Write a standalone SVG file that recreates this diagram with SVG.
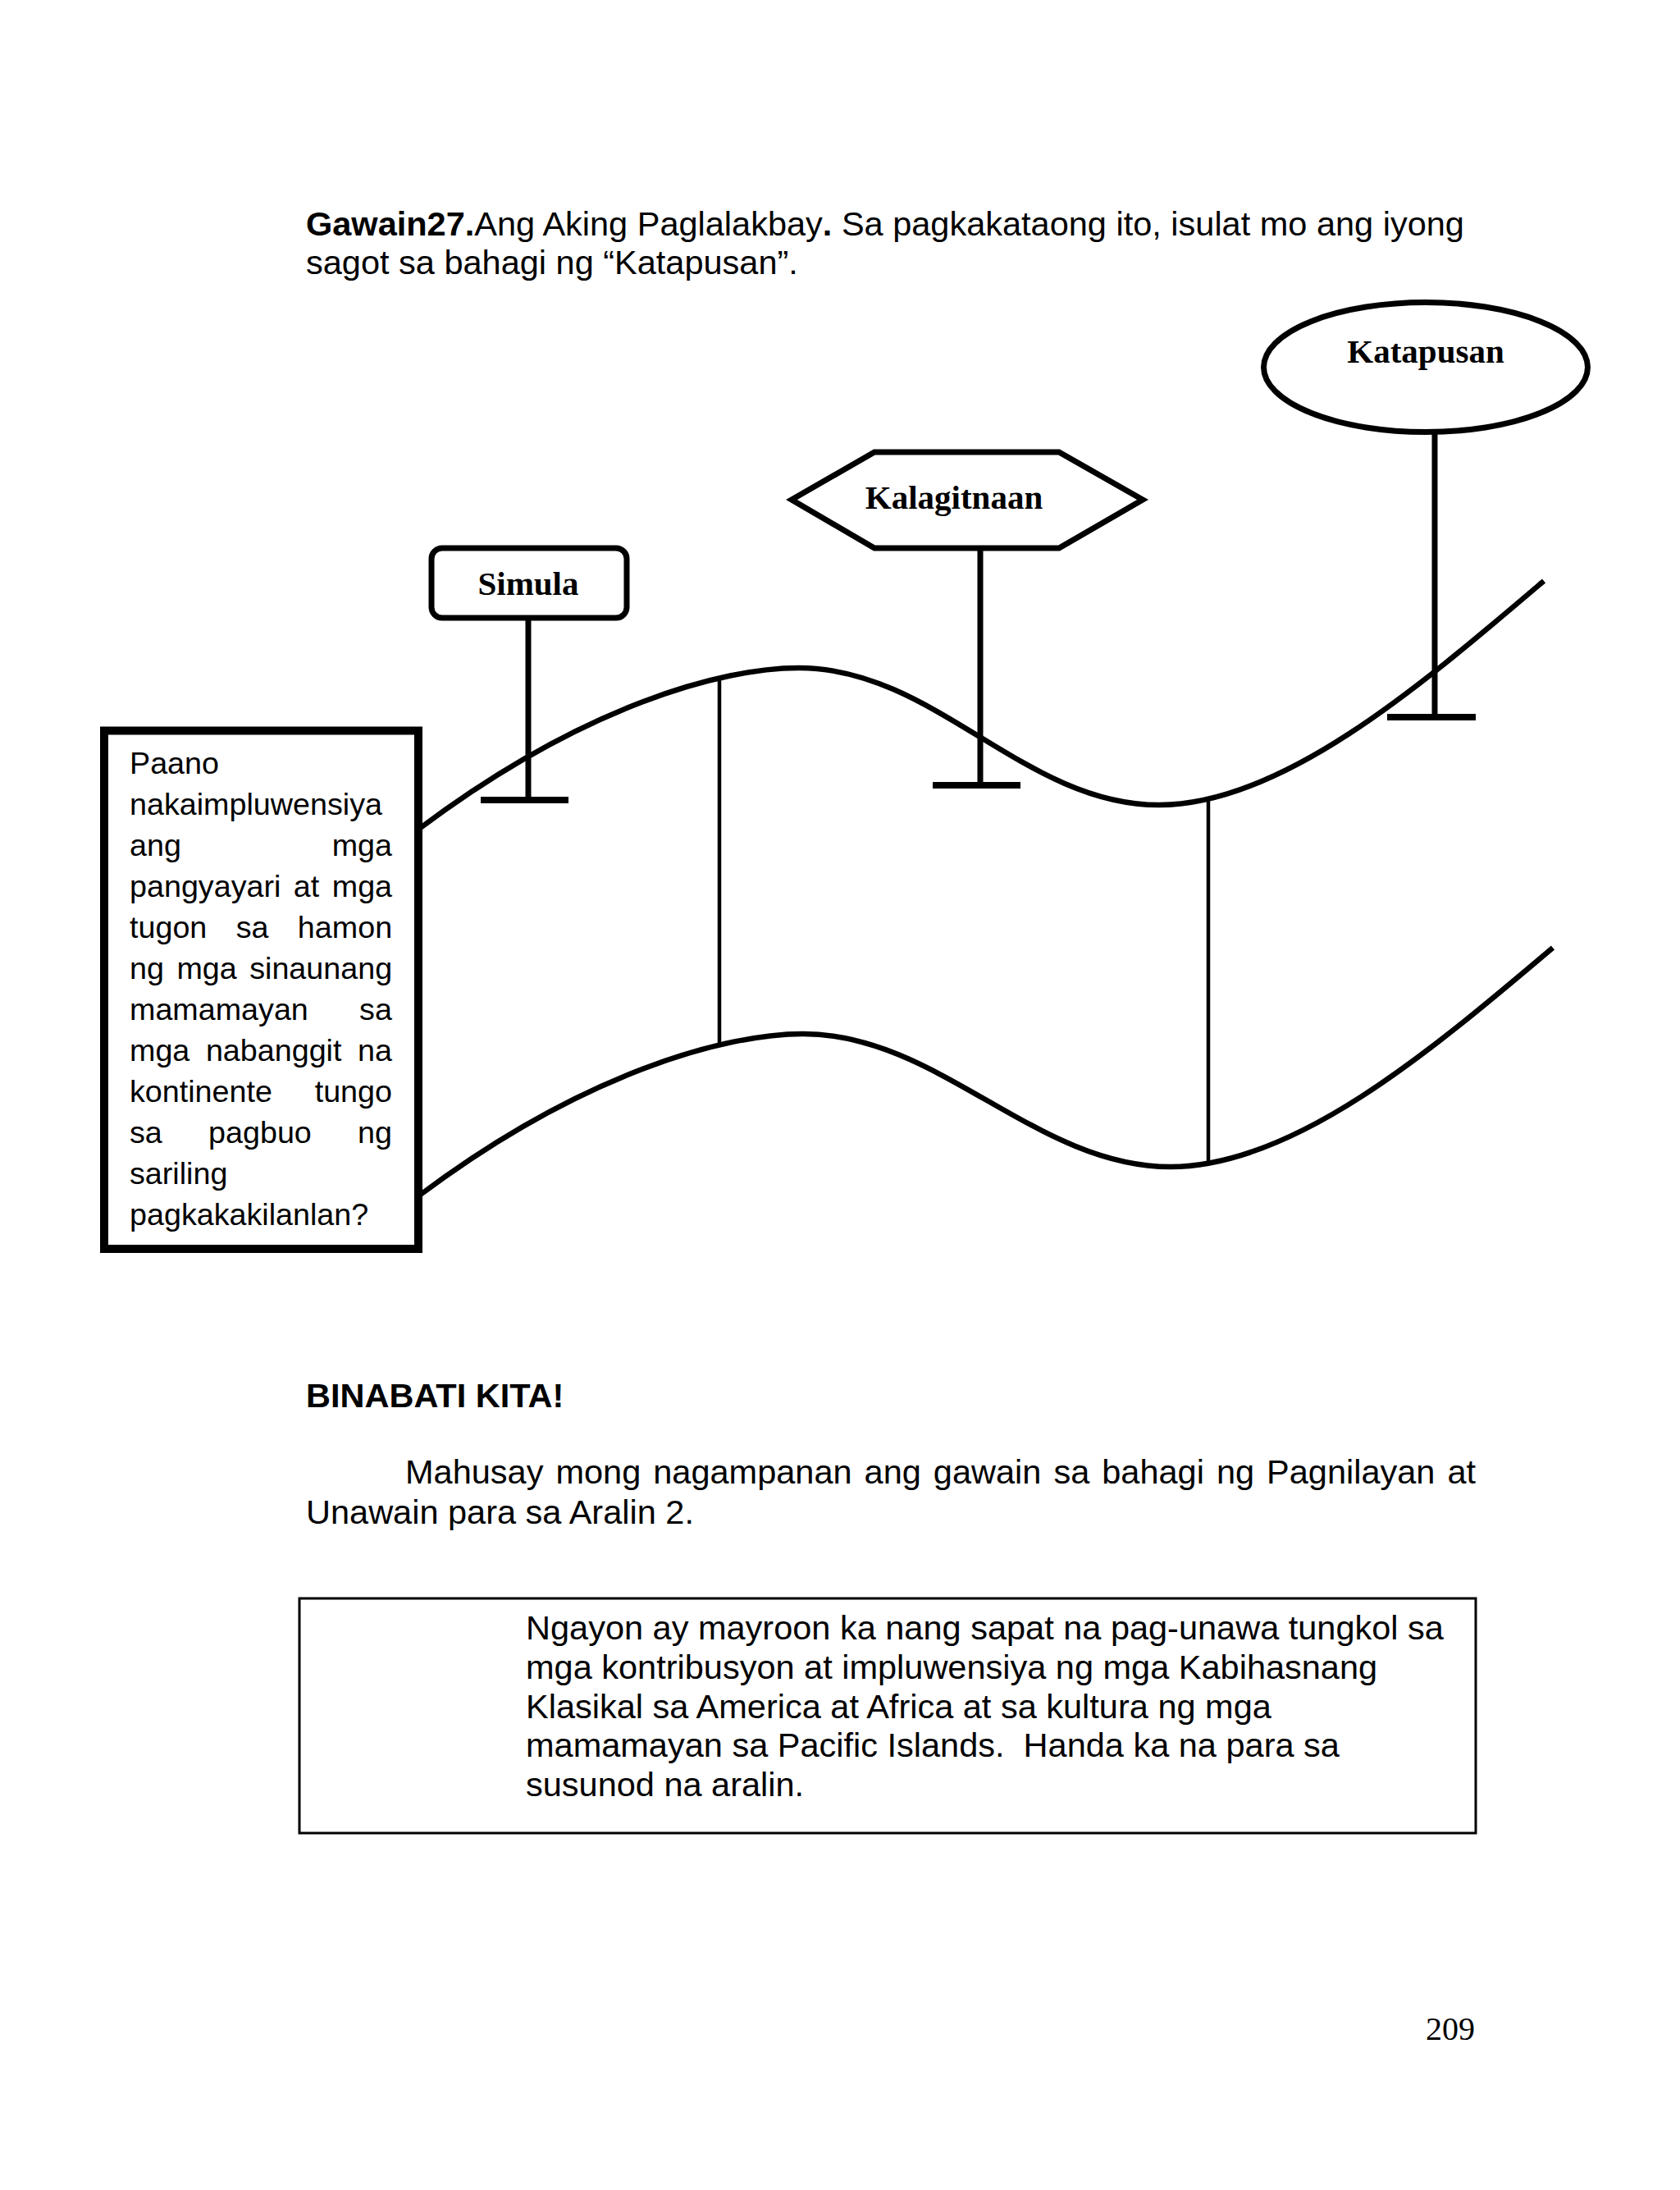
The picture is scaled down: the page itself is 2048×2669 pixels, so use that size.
<svg xmlns="http://www.w3.org/2000/svg" width="2048" height="2669" viewBox="0 0 2048 2669">
<style>
.sans{font-family:"Liberation Sans",Arial,sans-serif;fill:#000}
.body{font-size:41.5px}
.q{font-size:37.7px}
.lbl{font-family:"Liberation Serif","Times New Roman",serif;font-weight:bold;font-size:41px;text-anchor:middle;fill:#000}
.shape{fill:#fff;stroke:#000;stroke-width:7}
.stem{stroke:#000;stroke-width:7;fill:none}
.bar{stroke:#000;stroke-width:8;fill:none}
.wave{stroke:#000;stroke-width:6.5;fill:none}
.link{stroke:#000;stroke-width:4.5;fill:none}
</style>
<rect width="2048" height="2669" fill="#fff"/>

<g id="title">
<text class="sans body" x="373" y="287"><tspan font-weight="bold">Gawain27.</tspan>Ang Aking Paglalakbay<tspan font-weight="bold">. </tspan>Sa pagkakataong ito, isulat mo ang iyong</text>
<text class="sans body" x="373" y="334">sagot sa bahagi ng “Katapusan”.</text>
</g>

<g id="connectors">
<path class="wave" d="M511,1010 C711,860 880,814 974,814 C1139,814 1248,981 1413,981 C1563,981 1732,835.5 1882,708"/>
<path class="wave" d="M511,1457 C711,1307 885,1260 979,1260 C1144,1260 1262,1422 1427,1422 C1577,1422 1743,1282 1893,1155"/>
<line class="link" x1="877" y1="829" x2="877" y2="1275"/>
<line class="link" x1="1473" y1="973" x2="1473" y2="1419"/>
<line class="stem" x1="644" y1="753" x2="644" y2="975"/>
<line class="bar" x1="586" y1="975" x2="693" y2="975"/>
<line class="stem" x1="1195" y1="668" x2="1195" y2="957"/>
<line class="bar" x1="1137" y1="957" x2="1244" y2="957"/>
<line class="stem" x1="1749" y1="527" x2="1749" y2="874"/>
<line class="bar" x1="1691" y1="874" x2="1799" y2="874"/>
</g>

<g id="node-simula">
<rect class="shape" x="526" y="668" width="238" height="85" rx="13"/>
<text class="lbl" x="644" y="725">Simula</text>
</g>

<g id="node-kalagitnaan">
<polygon class="shape" points="965,609 1066,551 1291,551 1393,609 1291,668 1066,668"/>
<text class="lbl" x="1163" y="620">Kalagitnaan</text>
</g>

<g id="node-katapusan">
<ellipse class="shape" cx="1738" cy="447.5" rx="197.5" ry="79"/>
<text class="lbl" x="1738" y="442">Katapusan</text>
</g>

<g id="node-question">
<rect x="127" y="890.5" width="383" height="631.5" fill="#fff" stroke="#000" stroke-width="10"/>
<text class="sans q" x="158" y="943">Paano</text>
<text class="sans q" x="158" y="993">nakaimpluwensiya</text>
<text class="sans q" x="158" y="1043" word-spacing="173.3">ang mga</text>
<text class="sans q" x="158" y="1093" word-spacing="5">pangyayari at mga</text>
<text class="sans q" x="158" y="1143" word-spacing="24.9">tugon sa hamon</text>
<text class="sans q" x="158" y="1193" word-spacing="5">ng mga sinaunang</text>
<text class="sans q" x="158" y="1243" word-spacing="51.8">mamamayan sa</text>
<text class="sans q" x="158" y="1293" word-spacing="9.1">mga nabanggit na</text>
<text class="sans q" x="158" y="1343" word-spacing="41.3">kontinente tungo</text>
<text class="sans q" x="158" y="1393" word-spacing="45.8">sa pagbuo ng</text>
<text class="sans q" x="158" y="1443">sariling</text>
<text class="sans q" x="158" y="1493">pagkakakilanlan?</text>
</g>

<g id="congrats">
<text class="sans body" x="373" y="1715" font-weight="bold">BINABATI KITA!</text>
<text class="sans body" x="494" y="1808" word-spacing="3.5">Mahusay mong nagampanan ang gawain sa bahagi ng Pagnilayan at</text>
<text class="sans body" x="373" y="1857">Unawain para sa Aralin 2.</text>
</g>

<g id="summary-box">
<rect x="365" y="1948" width="1434" height="286" fill="#fff" stroke="#000" stroke-width="3"/>
<text class="sans body" x="641" y="1998">Ngayon ay mayroon ka nang sapat na pag-unawa tungkol sa</text>
<text class="sans body" x="641" y="2046">mga kontribusyon at impluwensiya ng mga Kabihasnang</text>
<text class="sans body" x="641" y="2094">Klasikal sa America at Africa at sa kultura ng mga</text>
<text class="sans body" x="641" y="2141" style="white-space:pre">mamamayan sa Pacific Islands.  Handa ka na para sa</text>
<text class="sans body" x="641" y="2189">susunod na aralin.</text>
</g>

<g id="page-number">
<text x="1798" y="2486" font-family="Liberation Serif,'Times New Roman',serif" font-size="40" text-anchor="end" fill="#000">209</text>
</g>
</svg>
